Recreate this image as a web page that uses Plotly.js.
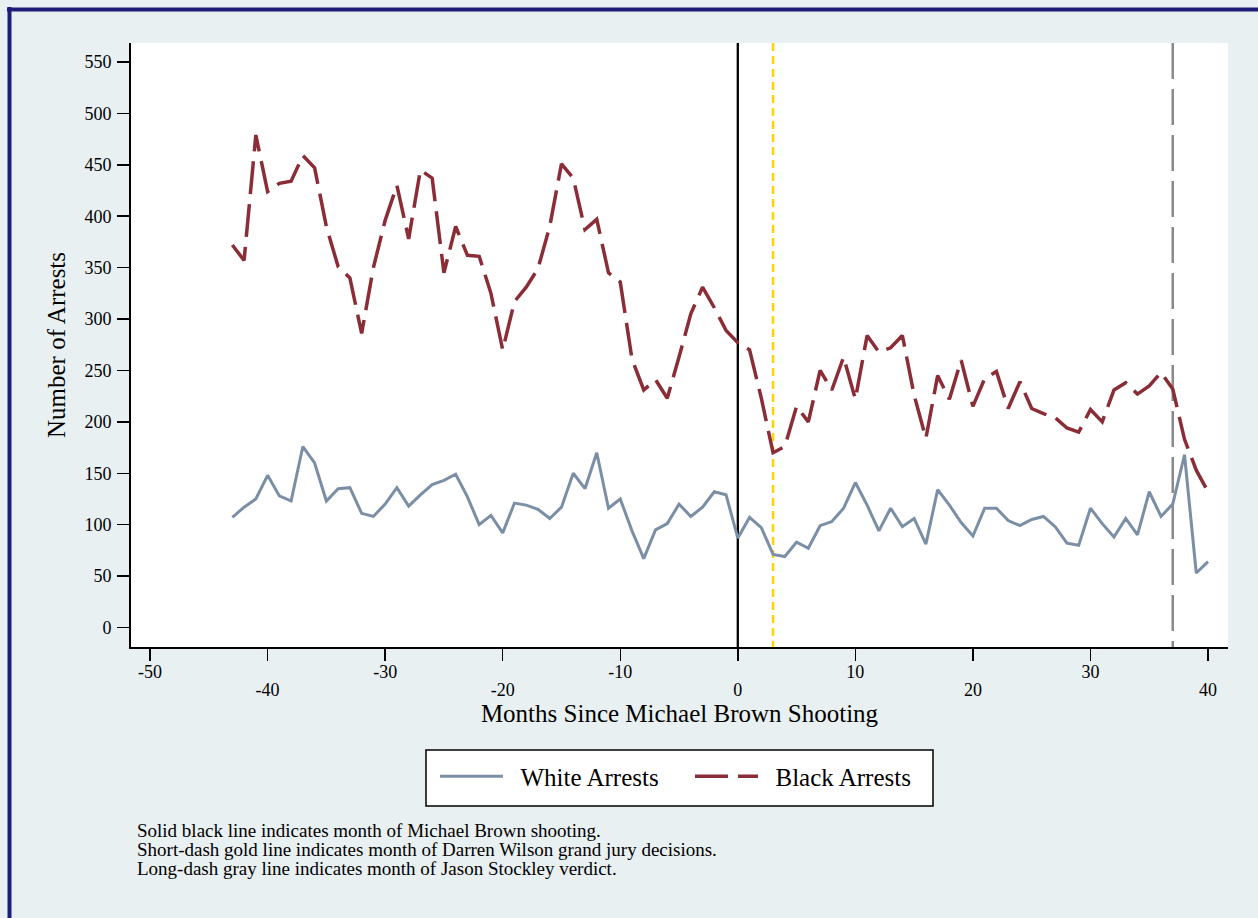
<!DOCTYPE html>
<html>
<head>
<meta charset="utf-8">
<script src="https://cdn.plot.ly/plotly-3.0.1.min.js"></script>
<style>
  html, body { margin: 0; padding: 0; background: #e9f0f2; }
  #chart { width: 1258px; height: 918px; }
</style>
</head>
<body>
<div id="chart"></div>
<script>
// Monthly arrests relative to the month of the Michael Brown shooting
const months = [
  -43, -42, -41, -40, -39, -38, -37, -36, -35, -34, -33, -32, -31, -30,
  -29, -28, -27, -26, -25, -24, -23, -22, -21, -20, -19, -18, -17, -16,
  -15, -14, -13, -12, -11, -10, -9, -8, -7, -6, -5, -4, -3, -2, -1,
  0, 1, 2, 3, 4, 5, 6, 7, 8, 9, 10, 11, 12, 13, 14, 15, 16, 17, 18, 19,
  20, 21, 22, 23, 24, 25, 26, 27, 28, 29, 30, 31, 32, 33, 34, 35, 36,
  37, 38, 39, 40
];

const whiteArrests = [
  107, 117, 125, 148, 128, 123, 176, 160, 123, 135, 136, 111, 108, 120,
  136, 118, 129, 139, 143, 149, 127, 100, 109, 92, 121, 119, 115, 106,
  117, 150, 135, 170, 116, 125, 94, 67, 95, 101, 120, 108, 117, 132, 129,
  87, 107, 97, 71, 69, 83, 77, 99, 103, 116, 141, 119, 94, 116, 98, 106,
  81, 134, 119, 102, 89, 116, 116, 104, 99, 105, 108, 98, 82, 80, 116,
  101, 88, 106, 90, 132, 108, 120, 168, 53, 64
];

const blackArrests = [
  372, 357, 479, 424, 432, 434, 459, 447, 390, 351, 340, 286, 350, 396,
  430, 378, 445, 437, 345, 390, 362, 361, 325, 270, 317, 331, 349, 390,
  451, 437, 387, 397, 345, 336, 261, 231, 241, 223, 263, 305, 331, 311, 289,
  277, 270, 223, 170, 176, 215, 200, 250, 231, 263, 222, 284, 268, 272, 284,
  226, 184, 245, 222, 260, 215, 242, 249, 213, 239, 213, 208, 204, 194, 190,
  212, 200, 231, 238, 227, 235, 248, 232, 183, 153, 132
];

// Event months marked with vertical reference lines
const shootingMonth = 0;
const grandJuryMonth = 3;
const stockleyMonth = 37;

// Axis ticks: x labels alternate between an upper and a lower row
const xTickVals = [-50, -40, -30, -20, -10, 0, 10, 20, 30, 40];
const xUpperVals = [-50, -30, -10, 10, 30];
const xUpperText = ['-50', '-30', '-10', '10', '30'];
const xLowerVals = [-40, -20, 0, 20, 40];
const xLowerText = ['-40', '-20', '0', '20', '40'];
const yTickVals = [0, 50, 100, 150, 200, 250, 300, 350, 400, 450, 500, 550];
const yGridVals = [0, 50, 100, 150, 200, 250, 300, 350, 400, 450, 500];

const seriesNames = ['White Arrests', 'Black Arrests'];

const notes = [
  'Solid black line indicates month of Michael Brown shooting.',
  'Short-dash gold line indicates month of Darren Wilson grand jury decisions.',
  'Long-dash gray line indicates month of Jason Stockley verdict.'
];

const serif = 'Liberation Serif, Times New Roman, serif';
const W = 1258, H = 918;
const M = { l: 131, r: 30, t: 43, b: 271 };
const plotW = W - M.l - M.r, plotH = H - M.t - M.b;
// pixel position on the page -> paper coordinate
const px = x => (x - M.l) / plotW;
const py = y => (H - M.b - y) / plotH;

const xRange = [-51.62, 41.70];
const yRange = [-19, 568.5];

// two no-break spaces open a gap between legend sample and label
const legendLabel = s => '\u00a0\u00a0' + s;

const traces = [
  {
    x: months, y: whiteArrests, name: legendLabel(seriesNames[0]),
    type: 'scatter', mode: 'lines',
    line: { color: '#7a8fa6', width: 3 },
    hoverinfo: 'x+y'
  },
  {
    x: months, y: blackArrests, name: legendLabel(seriesNames[1]),
    type: 'scatter', mode: 'lines',
    line: { color: '#8b2d37', width: 3.5, dash: '33px,10px' },
    hoverinfo: 'x+y'
  },
  // empty carrier so the lower-row label axis gets its own subplot
  { x: [], y: [], xaxis: 'x2', yaxis: 'y', type: 'scatter', mode: 'lines',
    showlegend: false, hoverinfo: 'skip' }
];

const vline = (xv, color, width, dash) => ({
  type: 'line', xref: 'x', yref: 'paper', x0: xv, x1: xv, y0: 1, y1: 0,
  line: { color: color, width: width, dash: dash }, layer: 'between'
});

const shapes = [
  vline(shootingMonth, '#000000', 2.3, 'solid'),
  vline(grandJuryMonth, '#ffd400', 2.5, '8px,5px'),
  vline(stockleyMonth, '#8a8a8a', 2.5, '36px,10px'),
  // legend frame
  { type: 'rect', xref: 'paper', yref: 'paper', x0: px(426), x1: px(933), y0: py(750), y1: py(806),
    fillcolor: '#ffffff', line: { color: '#000000', width: 1.5 }, layer: 'below' },
  // frame accents along the top and left page edges
  { type: 'line', xref: 'paper', yref: 'paper', x0: px(9.5), x1: px(9.5), y0: py(7), y1: py(H),
    line: { color: '#1e1e78', width: 4 }, layer: 'above' },
  { type: 'line', xref: 'paper', yref: 'paper', x0: px(7), x1: px(W), y0: py(9.5), y1: py(9.5),
    line: { color: '#1e1e78', width: 4 }, layer: 'above' }
];

const annotations = notes.map((t, i) => ({
  text: t, xref: 'paper', yref: 'paper', x: px(135), y: py(830 + 19 * i),
  xanchor: 'left', yanchor: 'middle', showarrow: false,
  font: { family: serif, size: 19, color: '#000' }
}));

const tickFont = { family: serif, size: 18, color: '#000' };
const titleFont = { family: serif, size: 25, color: '#000' };

const layout = {
  width: W, height: H,
  margin: M,
  paper_bgcolor: '#e9f0f2',
  plot_bgcolor: '#ffffff',
  font: { family: serif, color: '#000' },
  showlegend: true,
  legend: {
    orientation: 'h', x: px(435), xanchor: 'left', y: py(753.5), yanchor: 'top',
    bgcolor: 'rgba(0,0,0,0)', borderwidth: 0,
    font: { family: serif, size: 25, color: '#000' },
    itemwidth: 63, entrywidth: 177, traceorder: 'normal'
  },
  // upper row of x labels, tick marks and axis title
  xaxis: {
    range: xRange, tickvals: xTickVals,
    ticktext: xTickVals.map(v => xUpperVals.includes(v) ? xUpperText[xUpperVals.indexOf(v)] : ''),
    ticks: 'outside', ticklen: 12, tickwidth: 1.5, tickcolor: '#000',
    ticklabelstandoff: -5,
    showline: true, linecolor: '#000', linewidth: 2,
    showgrid: false, zeroline: false,
    tickfont: tickFont,
    title: { text: 'Months Since Michael Brown Shooting', font: titleFont, standoff: 24 }
  },
  // lower row of x labels
  xaxis2: {
    range: xRange, overlaying: 'x', anchor: 'y', side: 'bottom',
    tickvals: xLowerVals, ticktext: xLowerText,
    ticks: 'outside', ticklen: 12, tickwidth: 1, tickcolor: 'rgba(0,0,0,0)',
    ticklabelstandoff: 14,
    showline: false, showgrid: false, zeroline: false,
    tickfont: tickFont
  },
  yaxis: {
    range: yRange, tickvals: yTickVals,
    ticks: 'outside', ticklen: 12, tickwidth: 1.5, tickcolor: '#000',
    ticklabelstandoff: 2,
    showline: true, linecolor: '#000', linewidth: 2,
    showgrid: false, zeroline: false,
    tickfont: tickFont,
    title: { text: 'Number of Arrests', font: titleFont, standoff: 12 }
  },
  yaxis2: {
    range: yRange, overlaying: 'y', anchor: 'x', side: 'left',
    tickvals: yGridVals, showticklabels: false, ticks: '',
    showgrid: true, gridcolor: '#e8eff2', gridwidth: 2,
    zeroline: false, showline: false
  },
  shapes: shapes,
  annotations: annotations
};

Plotly.newPlot('chart', traces, layout, { displayModeBar: false, staticPlot: true });
</script>
</body>
</html>
